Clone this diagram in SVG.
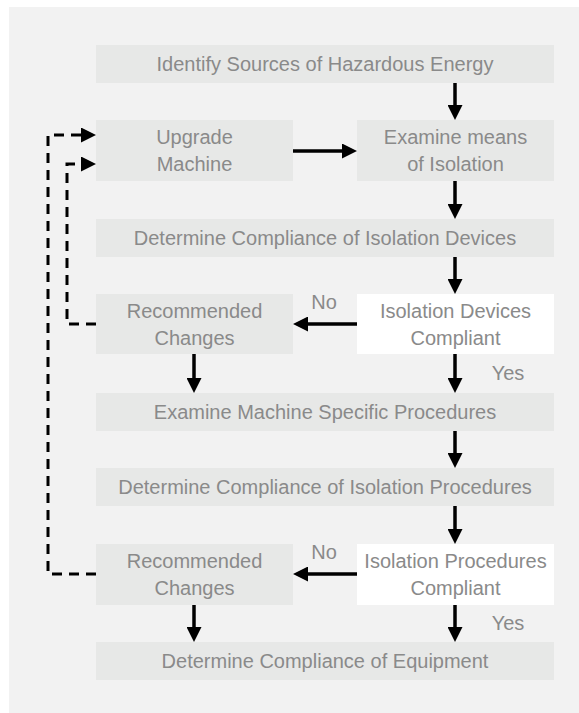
<svg xmlns="http://www.w3.org/2000/svg" width="579" height="713" viewBox="0 0 579 713">
<style>
.bg{fill:#f2f2f2}
.box{fill:#e7e8e7}
.wbox{fill:#ffffff}
text{font-family:"Liberation Sans",Arial,sans-serif;font-size:20px;fill:#8a8a8a;text-anchor:middle}
.ln{stroke:#000;stroke-width:3.5;fill:none}
.dl{stroke:#000;stroke-width:3;fill:none;stroke-dasharray:10 7}
</style>
<defs>
<marker id="ah" viewBox="0 0 15 15" refX="2" refY="7.5" markerWidth="15" markerHeight="15" markerUnits="userSpaceOnUse" orient="auto">
<path d="M0,0 L15,7.5 L0,15 z" fill="#000"/>
</marker>
</defs>
<rect class="bg" x="9" y="7" width="570" height="706"/>
<g id="n1"><rect class="box" x="96" y="45" width="458" height="38"/><text x="325" y="71">Identify Sources of Hazardous Energy</text></g>
<g id="n2"><rect class="box" x="96" y="120" width="197" height="61"/><text x="194.5" y="144">Upgrade</text><text x="194.5" y="171">Machine</text></g>
<g id="n3"><rect class="box" x="357" y="120" width="197" height="61"/><text x="455.5" y="144">Examine means</text><text x="455.5" y="171">of Isolation</text></g>
<g id="n4"><rect class="box" x="96" y="219" width="458" height="38"/><text x="325" y="245">Determine Compliance of Isolation Devices</text></g>
<g id="n5"><rect class="box" x="96" y="294" width="197" height="60"/><text x="194.5" y="317.5">Recommended</text><text x="194.5" y="344.5">Changes</text></g>
<g id="n6"><rect class="wbox" x="357" y="294" width="197" height="60"/><text x="455.5" y="317.5">Isolation Devices</text><text x="455.5" y="344.5">Compliant</text></g>
<g id="n7"><rect class="box" x="96" y="393" width="458" height="38"/><text x="325" y="419">Examine Machine Specific Procedures</text></g>
<g id="n8"><rect class="box" x="96" y="468" width="458" height="38"/><text x="325" y="494">Determine Compliance of Isolation Procedures</text></g>
<g id="n9"><rect class="box" x="96" y="544" width="197" height="61"/><text x="194.5" y="568">Recommended</text><text x="194.5" y="595">Changes</text></g>
<g id="n10"><rect class="wbox" x="357" y="544" width="197" height="61"/><text x="455.5" y="568">Isolation Procedures</text><text x="455.5" y="595">Compliant</text></g>
<g id="n11"><rect class="box" x="96" y="642" width="458" height="38"/><text x="325" y="668">Determine Compliance of Equipment</text></g>
<g id="connectors">
<path class="ln" marker-end="url(#ah)" d="M455,83 V107"/>
<path class="ln" marker-end="url(#ah)" d="M293,151 H344"/>
<path class="ln" marker-end="url(#ah)" d="M455,181 V206"/>
<path class="ln" marker-end="url(#ah)" d="M455,257 V281"/>
<path class="ln" marker-end="url(#ah)" d="M357,324 H306"/>
<path class="ln" marker-end="url(#ah)" d="M194,354 V380"/>
<path class="ln" marker-end="url(#ah)" d="M455,354 V380"/>
<path class="ln" marker-end="url(#ah)" d="M455,431 V455"/>
<path class="ln" marker-end="url(#ah)" d="M455,506 V531"/>
<path class="ln" marker-end="url(#ah)" d="M357,574 H306"/>
<path class="ln" marker-end="url(#ah)" d="M194,605 V629"/>
<path class="ln" marker-end="url(#ah)" d="M455,605 V629"/>
<path class="dl" marker-end="url(#ah)" d="M96,574 H48 V135 H83"/>
<path class="dl" marker-end="url(#ah)" d="M96,324 H67 V164 H83"/>
<text x="324" y="309">No</text>
<text x="508" y="380">Yes</text>
<text x="324" y="559">No</text>
<text x="508" y="630">Yes</text>
</g>
</svg>
